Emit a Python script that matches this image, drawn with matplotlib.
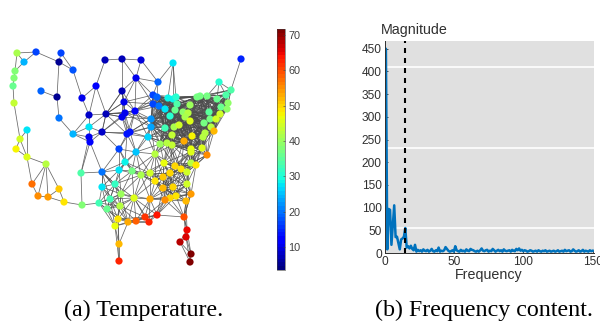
import numpy as np
import matplotlib
matplotlib.use("Agg")
import matplotlib.pyplot as plt
from matplotlib.collections import LineCollection

# node positions, in image pixels
node_x = [17,36,24,61,59,73,15,14,13,14,41,57,59,27,20,73,89,82,96,89,106,105,122,141,136,122,124,125,122,135,102,89,90,127,130,148,151,151,153,153,157,158,
          16,27,46,32,38,48,59,64,82,81,102,102,115,110,99,107,121,120,134,118,115,128,136,145,149,150,157,119,119,119,136,125,119,132,141,150,155,155,
          173,241,219,231,226,168,173,176,177,197,200,207,217,228,221,227,190,159,165,175,170,183,188,185,190,209,210,220,216,204,211,214,205,203,165,174,179,172,184,192,160,167,172,202,191,
          191,207,164,175,181,191,196,187,170,163,187,173,163,191,186,176,170,165,184,187,186,180,191,190]
node_y = [53,52,62,53,62,70,71,78,86,103,91,97,118,130,139,134,127,98,86,115,114,60,59,60,78,91,102,113,117,111,132,137,142,134,132,137,119,127,104,95,97,82,
          149,157,164,184,196,197,189,202,205,173,172,187,184,199,203,209,194,206,198,219,226,222,221,217,222,199,215,244,261,149,152,162,170,171,175,173,154,181,
          63,59,82,90,95,98,99,97,104,97,96,96,99,103,107,109,105,106,109,110,116,112,113,117,121,112,119,114,119,123,127,131,133,137,128,127,125,135,141,136,144,143,145,148,149,
          152,155,163,166,169,163,165,172,173,177,184,187,188,194,201,196,198,200,217,230,237,242,254,262]
node_temp = [41,17,24,17,5,18,38,38,36,43,19,5,20,28,44,24,28,10,11,8,7,7,7,9,10,7,10,10,10,11,8,10,11,14,14,26,22,23,17,17,19,19,
             48,46,42,57,55,54,51,49,38,34,20,28,32,33,33,36,40,42,46,49,47,53,58,62,63,53,64,52,63,17,25,29,27,37,41,44,42,49,
             27,15,31,34,34,29,29,31,34,37,37,37,36,39,36,39,40,20,28,36,31,39,42,41,46,35,37,45,45,37,42,52,42,42,33,41,44,43,53,48,40,42,43,46,47,
             46,55,47,50,49,42,49,44,50,51,45,50,52,54,52,49,50,55,59,65,66,68,71,72]

# edges of the sparse part, traced by hand (node indices)
sparse_edges = [(0,1),(1,2),(0,2),(0,6),(2,6),(6,7),(7,8),(8,9),(9,14),(1,4),(3,4),(3,5),(4,5),(4,11),(10,11),(11,12),
                (12,15),(5,17),(17,18),(17,19),(18,19),(18,20),(19,20),(21,18),(21,22),(22,23),(22,24),(23,24),(22,25),
                (19,15),(15,16),(15,31),(15,32),(16,19),(16,20),(16,30),(16,31),(20,30),(24,25),(24,26),(24,29),(24,41),
                (24,38),(24,39),(41,39),(41,40),(23,41),(80,41),(80,85),(80,86),(80,87),(81,83),(82,83),(82,84),(82,92),
                (82,91),(20,25),(20,26),(20,27),(20,28),(25,26),(13,43),(14,42),(14,43),(13,14),(42,43),(43,44),(43,45),
                (44,45),(44,46),(44,47),(44,48),(45,46),(46,47),(47,48),(47,49),(48,49),(49,50),(50,51),(50,56),(51,52),
                (51,31),(51,32),(52,32),(52,53),(52,54),(52,58),(31,32),(30,31),(30,32),(61,69),(62,69),
                (63,69),(69,70),(61,70),(62,70),(139,143),(138,143),(143,144),(144,145),(145,146),(146,147),(147,148),
                (145,147),(144,147),(144,146),(145,148),(143,145),(146,148)]
mesh_left = 99
mesh_top = 90
mesh_bottom = 232
mesh_reach = 30
east_reach = 38
south_reach = 30
south_start = 150

# spectrum
freq_mag = [450,450,8,97,95,18,60,105,35,36,22,8,30,32,36,55,12,15,10,16,9,6,18,3,7,4,6,3,8,5,
            4,7,3,5,9,4,3,6,4,12,3,5,4,6,13,9,5,3,4,6,3,15,6,4,3,7,4,5,3,8,
            5,4,9,7,6,4,3,5,3,6,10,5,4,6,7,3,5,4,9,6,3,5,7,4,6,3,8,5,4,5,
            6,3,7,5,4,9,6,10,5,7,4,6,5,3,4,6,5,3,4,5,3,6,4,3,5,4,6,3,4,5,
            3,4,5,3,4,6,3,4,5,3,7,4,5,6,3,4,8,5,3,4,6,3,4,7,3,5,4,3,6,4,5]
x_ticks = [0,50,100,150]
y_ticks = [0,50,100,150,200,250,300,350,400,450]
grid_levels = [55,232,410]
bar_ticks = [10,20,30,40,50,60,70]
cutoff = 15

plt.rcParams['font.family'] = ['Liberation Sans', 'DejaVu Sans']
fig = plt.figure(figsize=(6.0,3.28), dpi=100)

W, H = 600.0, 328.0
def box(l, t, r, b):
    return [l/W, 1-b/H, (r-l)/W, (b-t)/H]

# left panel, graph signal
ax = fig.add_axes([0,0,1,1])
ax.set_xlim(0,600)
ax.set_ylim(328,0)
ax.axis('off')
pts = np.column_stack([node_x,node_y]).astype(float)
dist = np.linalg.norm(pts[:,None]-pts[None,:],axis=2)
segs = [[pts[a],pts[b]] for a,b in sparse_edges]
for i in range(len(pts)):
    for j in range(i+1,len(pts)):
        if min(pts[i,0],pts[j,0]) < mesh_left or min(pts[i,1],pts[j,1]) < mesh_top or max(pts[i,1],pts[j,1]) > mesh_bottom:
            continue
        reach = east_reach if min(pts[i,0],pts[j,0]) >= 150 else mesh_reach
        if max(pts[i,1],pts[j,1]) > south_start:
            reach = south_reach
        if dist[i,j] < reach:
            segs.append([pts[i],pts[j]])
ax.add_collection(LineCollection(segs,colors='#4d4d4d',linewidths=0.55,alpha=0.85))
sc = ax.scatter(node_x,node_y,c=node_temp,s=27,cmap=plt.get_cmap('jet',64),vmin=3.5,vmax=71.7,linewidths=0,zorder=3)

cax = fig.add_axes(box(277,29,285,270))
cb = fig.colorbar(sc,cax=cax)
cb.set_ticks(bar_ticks)
cb.ax.tick_params(labelsize=7.8,length=1.5,width=0.4,color='#404040',labelcolor='#404040',direction='in',pad=2.5)
cb.outline.set_linewidth(0.4)
cb.outline.set_edgecolor('#404040')

# right panel, spectrum
ax2 = fig.add_axes(box(384.5,41,594,253))
ax2.set_facecolor('#e0e0e0')
ax2.set_xlim(0,151)
ax2.set_ylim(0,467)
for lev in grid_levels:
    ax2.axhline(lev,color='white',lw=1.2,zorder=1)
ax2.plot(range(len(freq_mag)),freq_mag,color='#0072BD',lw=1.8,zorder=2,solid_joinstyle='round')
ax2.axvline(cutoff,color='black',lw=1.5,ls=(0,(2.4,2.4)),zorder=3)
ax2.set_xticks(x_ticks)
ax2.set_yticks(y_ticks)
ax2.tick_params(labelsize=8.6,length=2,width=0.6,color='#303030',labelcolor='#303030',direction='in',pad=2)
for s in ['top','right']:
    ax2.spines[s].set_visible(False)
for s in ['left','bottom']:
    ax2.spines[s].set_linewidth(0.7)
    ax2.spines[s].set_color('#303030')

ax.text(381,30,'Magnitude',fontsize=10.3,color='#303030',ha='left',va='center')
ax.text(489,274.5,'Frequency',fontsize=10.3,color='#303030',ha='center',va='center')
ax.text(143.5,310,'(a) Temperature.',fontsize=17.3,family=['Liberation Serif'],ha='center',va='center')
ax.text(484,310,'(b) Frequency content.',fontsize=17.3,family=['Liberation Serif'],ha='center',va='center')

fig.savefig('out.png',dpi=100)
